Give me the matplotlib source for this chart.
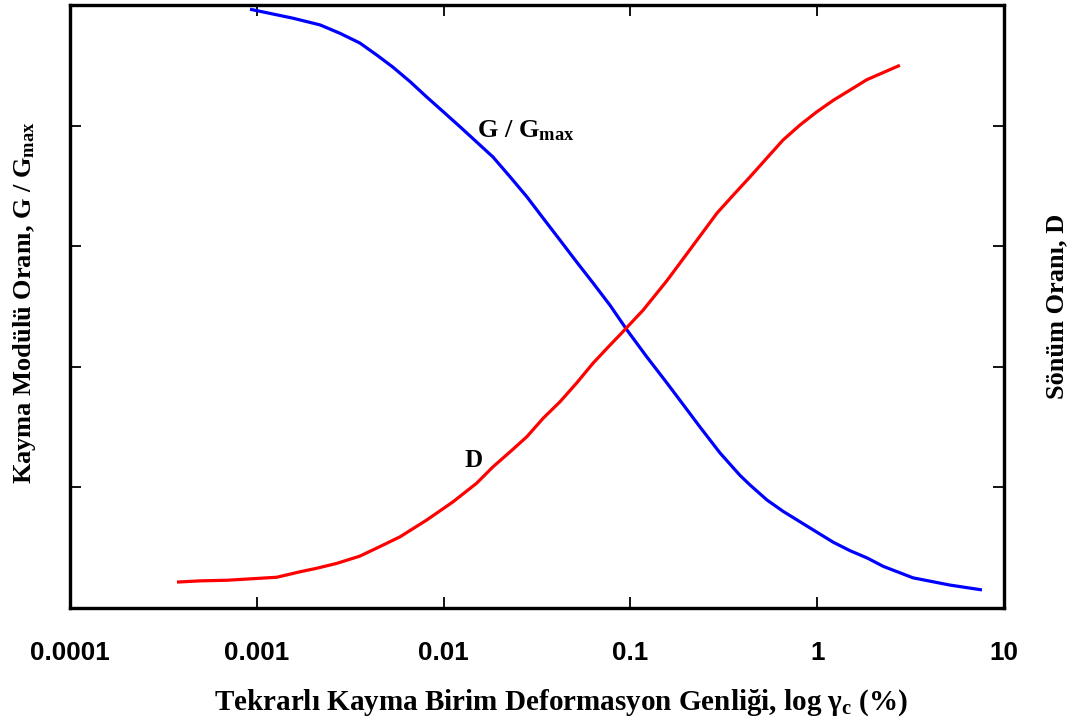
import matplotlib
matplotlib.use("Agg")
import matplotlib.pyplot as plt

# Data (G/Gmax curve)
g_strain = [0.00092, 0.001567, 0.00218, 0.00279, 0.00356, 0.00439, 0.00535, 0.00661,
            0.00815, 0.00996, 0.01225, 0.01837, 0.0227, 0.0279, 0.0342, 0.0420,
            0.0515, 0.0631, 0.0778, 0.0959, 0.122, 0.157, 0.192, 0.236, 0.302,
            0.386, 0.437, 0.539, 0.659, 0.809, 0.993, 1.22, 1.50, 1.85, 2.26,
            3.26, 5.14, 7.62]
g_ratio = [0.993, 0.978, 0.967, 0.953, 0.937, 0.917, 0.897, 0.873,
           0.847, 0.823, 0.798, 0.748, 0.715, 0.682, 0.646, 0.610,
           0.574, 0.539, 0.502, 0.461, 0.417, 0.373, 0.337, 0.300, 0.257,
           0.220, 0.204, 0.179, 0.160, 0.143, 0.126, 0.109, 0.095, 0.083, 0.069,
           0.050, 0.038, 0.030]

# Damping ratio curve D
d_strain = [0.000374, 0.000497, 0.000692, 0.00128, 0.0017, 0.00210, 0.00268, 0.00356,
            0.00457, 0.00584, 0.00813, 0.01122, 0.01503, 0.01837, 0.0227, 0.0279,
            0.0342, 0.0420, 0.0515, 0.0631, 0.0778, 0.0879, 0.117, 0.157, 0.208,
            0.291, 0.356, 0.437, 0.537, 0.656, 0.809, 0.997, 1.22, 1.50, 1.84, 2.77]
d_ratio = [0.043, 0.045, 0.046, 0.051, 0.060, 0.066, 0.074, 0.086,
           0.102, 0.118, 0.146, 0.176, 0.207, 0.234, 0.259, 0.284,
           0.315, 0.342, 0.373, 0.406, 0.436, 0.453, 0.494, 0.543, 0.594,
           0.655, 0.685, 0.715, 0.746, 0.776, 0.801, 0.823, 0.842, 0.859, 0.876, 0.900]

x_ticks = [0.0001, 0.001, 0.01, 0.1, 1, 10]
x_tick_labels = ["0.0001", "0.001", "0.01", "0.1", "1", "10"]
y_ticks = [0.2, 0.4, 0.6, 0.8]

plt.rcParams['mathtext.fontset'] = 'custom'
plt.rcParams['mathtext.rm'] = 'Liberation Serif:bold'
plt.rcParams['mathtext.it'] = 'Liberation Serif:bold'
plt.rcParams['mathtext.bf'] = 'Liberation Serif:bold'

serif = dict(family='Liberation Serif', weight='bold')

fig = plt.figure(figsize=(10.73, 7.24), dpi=100)
ax = fig.add_axes([70/1073, 1-608/724, 934/1073, 603/724])
ax2 = ax.twinx()

ax.plot(g_strain, g_ratio, color=(0, 0, 1), lw=2.3, solid_capstyle='butt',
        solid_joinstyle='round')
ax2.plot(d_strain, d_ratio, color=(1, 0, 0), lw=2.3, solid_capstyle='butt',
         solid_joinstyle='round')

for a in (ax, ax2):
    a.set_xscale('log')
    a.set_xlim(0.0001, 10)
    a.set_ylim(0, 1.0)
    a.set_yticks(y_ticks)
    a.set_yticklabels([])
    for s in a.spines.values():
        s.set_linewidth(2.3)
        s.set_color('black')

ax.set_xticks(x_ticks)
ax.set_xticklabels(x_tick_labels, fontfamily='Liberation Sans', fontweight='bold', fontsize=18.7)
ax.minorticks_off()
ax2.minorticks_off()
ax.tick_params(axis='x', which='major', direction='in', length=8, width=1.3,
               top=True, bottom=True, pad=24)
ax.tick_params(axis='y', which='major', direction='in', length=8, width=1.3,
               left=True, right=False)
ax2.tick_params(axis='y', which='major', direction='in', length=8, width=1.3,
                left=False, right=True)

ax.set_xlabel("Tekrarlı Kayma Birim Deformasyon Genliği, log γ$_{c}$ (%)",
              fontsize=21, va='center', **serif)
ax.xaxis.set_label_coords((561-70)/934, (608-703)/603)

ax.set_ylabel("Kayma Modülü Oranı, G / G$_{max}$", fontsize=19, va='center', **serif)
ax.yaxis.set_label_coords((25-70)/934, (608-303)/603)

ax2.set_ylabel("Sönüm Oranı, D", fontsize=19, va='center', rotation=90, **serif)
ax2.yaxis.set_label_coords((1057-70)/934, (608-306)/603)

ax.text(0.0151, 0.781, "G / G$_{max}$", fontsize=19, ha='left', va='baseline', **serif)
ax.text(0.0130, 0.234, "D", fontsize=18, ha='left', va='baseline', **serif)

fig.savefig("out.png", dpi=100)
